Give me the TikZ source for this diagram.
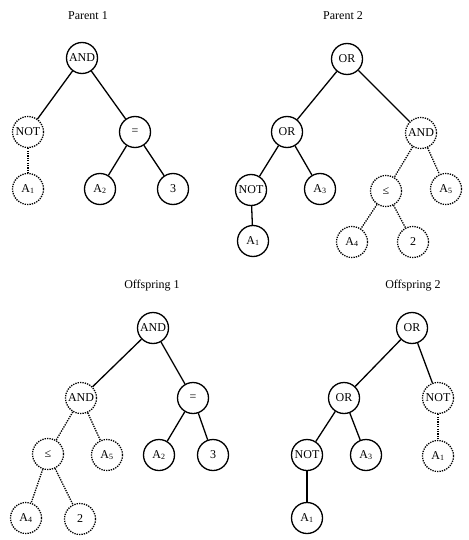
\documentclass[tikz,border=0pt]{standalone}
\usepackage{fontspec}
\setmainfont{Liberation Serif}
\begin{document}
\begin{tikzpicture}[x=1pt,y=-1pt,
  nd/.style={circle,draw,line width=1.3pt,minimum size=31pt,inner sep=0pt,font=\fontsize{12}{13}\selectfont},
  dn/.style={nd,dash pattern=on 1.3pt off 1.1pt},
  lbl/.style={font=\fontsize{12}{13}\selectfont},
  ed/.style={line width=1.3pt},
  de/.style={line width=1.3pt,dash pattern=on 1.3pt off 1.1pt}]
\useasboundingbox (0,0) rectangle (468,540);
% Parent 1
\node[lbl] (t1) at (88,16) {Parent 1};
\node[nd] (p1and) at (82,58) {AND};
\node[dn] (p1not) at (28,132) {NOT};
\node[nd] (p1eq) at (135,132) {=};
\node[dn] (p1a1) at (28,189) {A\textsubscript{1}};
\node[nd] (p1a2) at (100,189) {A\textsubscript{2}};
\node[nd] (p1three) at (173,189) {3};
\draw[ed] (p1and) -- (p1not);
\draw[ed] (p1and) -- (p1eq);
\draw[de] (p1not) -- (p1a1);
\draw[ed] (p1eq) -- (p1a2);
\draw[ed] (p1eq) -- (p1three);
% Parent 2
\node[lbl] (t2) at (343,16) {Parent 2};
\node[nd] (p2or) at (347,59) {OR};
\node[nd] (p2or2) at (287,132) {OR};
\node[dn] (p2and) at (421,133) {AND};
\node[nd] (p2not) at (251,190) {NOT};
\node[nd] (p2a3) at (320,189) {A\textsubscript{3}};
\node[dn] (p2le) at (386,191) {≤};
\node[dn] (p2a5) at (446,189) {A\textsubscript{5}};
\node[nd] (p2a1) at (253,241) {A\textsubscript{1}};
\node[dn] (p2a4) at (352,242) {A\textsubscript{4}};
\node[dn] (p2two) at (413,242) {2};
\draw[ed] (p2or) -- (p2or2);
\draw[ed] (p2or) -- (p2and);
\draw[ed] (p2or2) -- (p2not);
\draw[ed] (p2or2) -- (p2a3);
\draw[ed] (p2not) -- (p2a1);
\draw[de] (p2and) -- (p2le);
\draw[de] (p2and) -- (p2a5);
\draw[de] (p2le) -- (p2a4);
\draw[de] (p2le) -- (p2two);
% Offspring 1
\node[lbl] (t3) at (152,286) {Offspring 1};
\node[nd] (o1and) at (153,328) {AND};
\node[dn] (o1and2) at (81,398) {AND};
\node[nd] (o1eq) at (193,398) {=};
\node[dn] (o1le) at (48,454) {≤};
\node[dn] (o1a5) at (107,455) {A\textsubscript{5}};
\node[nd] (o1a2) at (159,455) {A\textsubscript{2}};
\node[nd] (o1three) at (213,455) {3};
\node[dn] (o1a4) at (26,518) {A\textsubscript{4}};
\node[dn] (o1two) at (80,519) {2};
\draw[ed] (o1and) -- (o1and2);
\draw[ed] (o1and) -- (o1eq);
\draw[de] (o1and2) -- (o1le);
\draw[de] (o1and2) -- (o1a5);
\draw[ed] (o1eq) -- (o1a2);
\draw[ed] (o1eq) -- (o1three);
\draw[de] (o1le) -- (o1a4);
\draw[de] (o1le) -- (o1two);
% Offspring 2
\node[lbl] (t4) at (413,286) {Offspring 2};
\node[nd] (o2or) at (412,328) {OR};
\node[nd] (o2or2) at (344,398) {OR};
\node[dn] (o2not) at (438,398) {NOT};
\node[nd] (o2not2) at (307,455) {NOT};
\node[nd] (o2a3) at (366,455) {A\textsubscript{3}};
\node[dn] (o2a1d) at (438,456) {A\textsubscript{1}};
\node[nd] (o2a1) at (307,518) {A\textsubscript{1}};
\draw[ed] (o2or) -- (o2or2);
\draw[ed] (o2or) -- (o2not);
\draw[de] (o2not) -- (o2a1d);
\draw[ed] (o2or2) -- (o2not2);
\draw[ed] (o2or2) -- (o2a3);
\draw[ed] (o2not2) -- (o2a1);
\end{tikzpicture}
\end{document}
